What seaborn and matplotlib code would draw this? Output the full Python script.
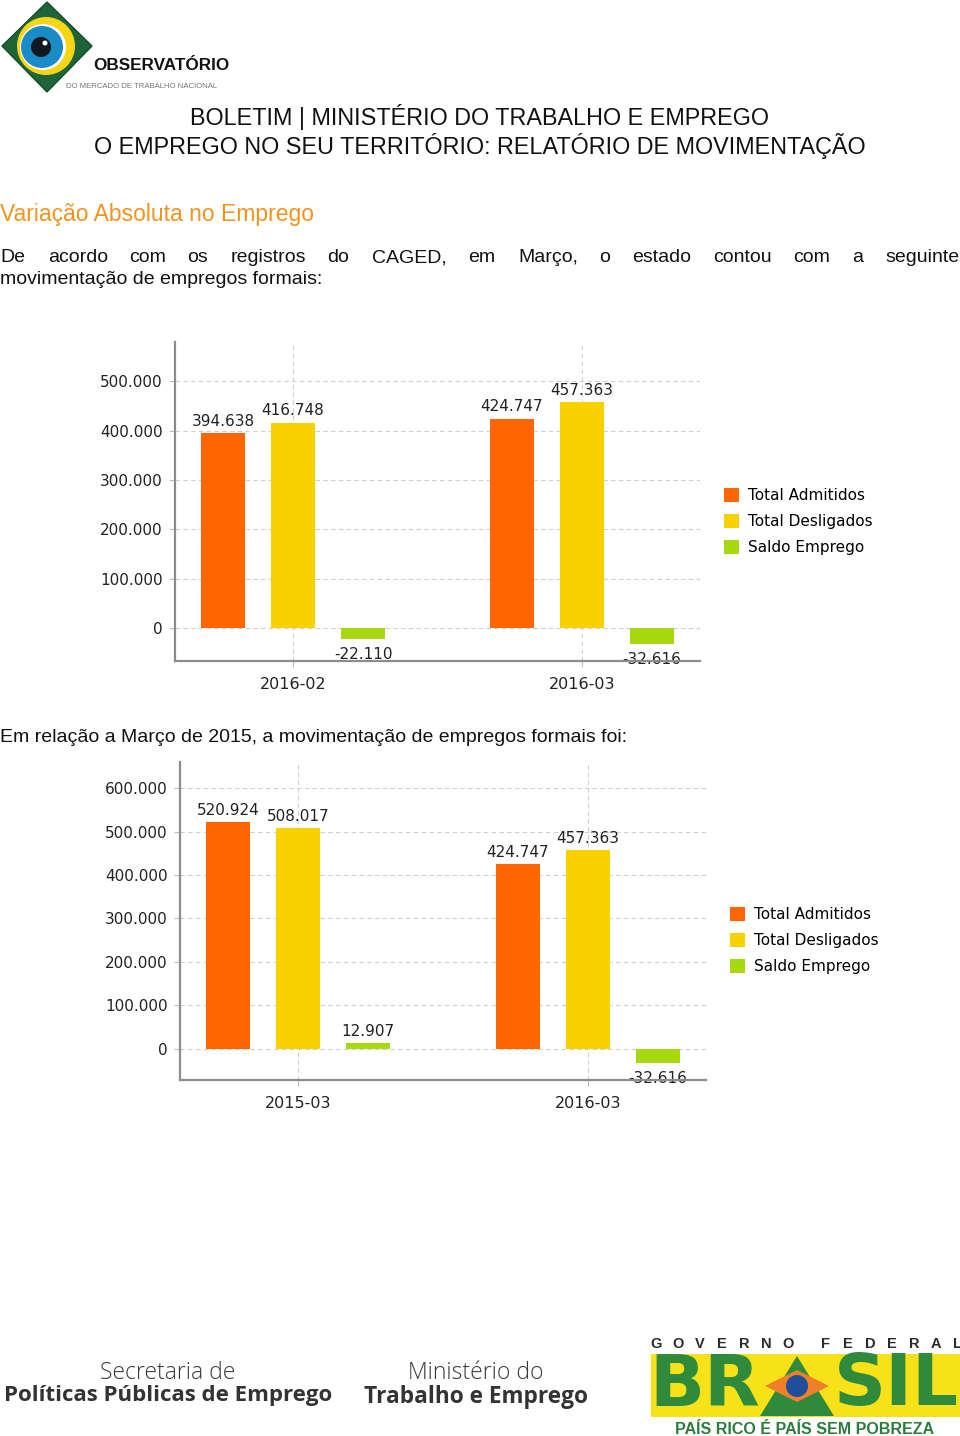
import numpy as np
import pandas as pd
import matplotlib
matplotlib.use("Agg")
import matplotlib.pyplot as plt
import seaborn as sns
from matplotlib.patches import Polygon, Circle, Rectangle

# ---------------- data ----------------
series = ["Total Admitidos", "Total Desligados", "Saldo Emprego"]
colors = ["#ff6600", "#fad100", "#a8d80f"]

periods_1 = ["2016-02", "2016-03"]
admitidos_1 = [394638, 424747]
desligados_1 = [416748, 457363]
saldo_1 = [-22110, -32616]
yticks_1 = [0, 100000, 200000, 300000, 400000, 500000]

periods_2 = ["2015-03", "2016-03"]
admitidos_2 = [520924, 424747]
desligados_2 = [508017, 457363]
saldo_2 = [12907, -32616]
yticks_2 = [0, 100000, 200000, 300000, 400000, 500000, 600000]

body_words = ["De", "acordo", "com", "os", "registros", "do", "CAGED,", "em",
              "Março,", "o", "estado", "contou", "com", "a", "seguinte"]
body_word_x = [0, 48, 129, 187, 231, 327, 372, 468, 518, 599, 632, 713, 793, 852, 885]


def br(v):
    return f"{v:,.0f}".replace(",", ".")


W, H = 960, 1436
fig = plt.figure(figsize=(W / 100, H / 100), dpi=100)
fig.patch.set_facecolor("white")

# background axes in pixel coordinates (y downward)
bg = fig.add_axes([0, 0, 1, 1])
bg.set_xlim(0, W)
bg.set_ylim(H, 0)
bg.axis("off")

SANS = ["Liberation Sans", "DejaVu Sans"]

# ---------------- header logo ----------------
bg.add_patch(Polygon([(47, 2), (92, 46), (47, 92), (2, 46)], closed=True,
                     facecolor="#1f6436", edgecolor="#174d2a", lw=1))
bg.add_patch(Circle((46, 46), 29, facecolor="#f6d516", edgecolor="none"))
bg.add_patch(Circle((43, 47), 23, facecolor="white", edgecolor="none"))
bg.add_patch(Circle((42, 47), 21, facecolor="#1b8bc8", edgecolor="none"))
bg.add_patch(Circle((41, 47), 10, facecolor="#101820", edgecolor="none"))
bg.add_patch(Circle((45, 43), 2.5, facecolor="white", edgecolor="none"))
bg.text(93, 66, "OBSERVATÓRIO", ha="left", va="center", fontsize=12.3,
        fontweight="bold", family=["Liberation Sans"], color="#111")
bg.text(66, 86, "DO MERCADO DE TRABALHO NACIONAL", ha="left", va="center", fontsize=5.6,
        family=["Liberation Sans"], color="#777")

# ---------------- titles ----------------
bg.text(480, 117, "BOLETIM | MINISTÉRIO DO TRABALHO E EMPREGO", ha="center", va="center",
        fontsize=16.8, family=SANS, color="#111")
bg.text(480, 146, "O EMPREGO NO SEU TERRITÓRIO: RELATÓRIO DE MOVIMENTAÇÃO", ha="center",
        va="center", fontsize=16.8, family=SANS, color="#111")
bg.text(0, 215, "Variação Absoluta no Emprego", ha="left", va="center", fontsize=16.5,
        family=SANS, color="#f39320")
for w_, x_ in zip(body_words, body_word_x):
    bg.text(x_, 258, w_, ha="left", va="center", fontsize=14, family=SANS, color="#111")
bg.text(0, 279, "movimentação de empregos formais:", ha="left", va="center", fontsize=14,
        family=SANS, color="#111")
bg.text(0, 738, "Em relação a Março de 2015, a movimentação de empregos formais foi:",
        ha="left", va="center", fontsize=14, family=SANS, color="#111")

# ---------------- footer ----------------
FOOT = ["Open Sans", "DejaVu Sans"]
bg.text(168, 1373, "Secretaria de", ha="center", va="center", fontsize=16.5,
        family=FOOT, fontweight="light", color="#3a3a3a")
bg.text(168, 1396, "Políticas Públicas de Emprego", ha="center", va="center", fontsize=16,
        family=FOOT, fontweight="bold", color="#333333")
bg.text(476, 1373, "Ministério do", ha="center", va="center", fontsize=16.5,
        family=FOOT, fontweight="light", color="#3a3a3a")
bg.text(476, 1397, "Trabalho e Emprego", ha="center", va="center", fontsize=16.3,
        family=FOOT, fontweight="bold", color="#333333")

gov_1 = "GOVERNO"
gov_2 = "FEDERAL"
for i, ch in enumerate(gov_1):
    bg.text(656 + i * 22, 1344, ch, ha="center", va="center", fontsize=10.5,
            fontweight="bold", family=SANS, color="#2b2b2b")
for i, ch in enumerate(gov_2):
    bg.text(826 + i * 22, 1344, ch, ha="center", va="center", fontsize=10.5,
            fontweight="bold", family=SANS, color="#2b2b2b")

bg.add_patch(Rectangle((651, 1354), 309, 63, facecolor="#f7e21a", edgecolor="none"))
bg.text(649, 1386, "BR", ha="left", va="center", fontsize=52, fontweight="bold",
        family=["DejaVu Sans"], color="#2f8a3b")
bg.text(959, 1386, "SIL", ha="right", va="center", fontsize=52, fontweight="bold",
        family=["DejaVu Sans"], color="#2f8a3b")
bg.add_patch(Polygon([(797, 1356), (834, 1416), (760, 1416)], closed=True,
                     facecolor="#2f8a3b", edgecolor="none"))
bg.add_patch(Polygon([(797, 1370), (829, 1386), (797, 1402), (765, 1386)], closed=True,
                     facecolor="#f07f2a", edgecolor="none"))
bg.add_patch(Circle((797, 1386), 11, facecolor="#1f4f9c", edgecolor="none"))

bg.text(805, 1429, "PAÍS RICO É PAÍS SEM POBREZA", ha="center", va="center", fontsize=11.5,
        fontweight="bold", family=SANS, color="#2a7d3a")


# ---------------- charts ----------------
def px_axes(l, t, r, b):
    return fig.add_axes([l / W, 1 - b / H, (r - l) / W, (b - t) / H])


def draw_chart(ax, periods, adm, des, sal, yticks, ylim, legend_xy):
    n = len(periods)
    df = pd.DataFrame({
        "periodo": list(periods) * 3,
        "serie": [series[0]] * n + [series[1]] * n + [series[2]] * n,
        "valor": list(adm) + list(des) + list(sal),
    })
    sns.barplot(data=df, x="periodo", y="valor", hue="serie", hue_order=series,
                order=periods, palette=colors, saturation=1, width=0.727, gap=0.37,
                errorbar=None, ax=ax, zorder=3)
    ax.patch.set_alpha(0)
    ax.set_axisbelow(True)
    for cont in ax.containers:
        vals = list(cont.datavalues)
        labs = ax.bar_label(cont, labels=[br(v) for v in vals], padding=3,
                            fontsize=11, color="#222", family="DejaVu Sans")
        for t, v in zip(labs, vals):
            t.set_clip_on(True)
            t.set_zorder(2)
            if v < 0:
                ox, oy = t.xyann
                t.xyann = (ox, oy - 2.5)
    ax.set_xlim(-0.408, 1.408)
    ax.set_ylim(*ylim)
    ax.set_yticks(yticks)
    ax.set_yticklabels([br(v) for v in yticks], family="DejaVu Sans")
    ax.set_xlabel("")
    ax.set_ylabel("")
    for s in ["top", "right"]:
        ax.spines[s].set_visible(False)
    for s in ["left", "bottom"]:
        ax.spines[s].set_color("#8c8c8c")
        ax.spines[s].set_linewidth(1.6)
        ax.spines[s].set_zorder(5)
    ax.grid(True, axis="both", color="#cfcfcf", linestyle=(0, (4, 3)), linewidth=0.8)
    ax.tick_params(axis="both", length=4, color="#bdbdbd", labelsize=11, labelcolor="#222")
    ax.tick_params(axis="y", pad=5)
    ax.tick_params(axis="x", pad=7.5, labelsize=11.5)
    for lab in ax.get_xticklabels():
        lab.set_family("DejaVu Sans")
    h, l = ax.get_legend_handles_labels()
    if ax.get_legend() is not None:
        ax.get_legend().remove()
    ax.legend(h, l, loc="upper left", bbox_to_anchor=(legend_xy[0] / W, 1 - legend_xy[1] / H),
              bbox_transform=fig.transFigure, frameon=False,
              handlelength=1.0, handleheight=1.0, handletextpad=0.55, labelspacing=0.72,
              borderpad=0, borderaxespad=0, prop={"family": "DejaVu Sans", "size": 11})


ax1 = px_axes(175, 342, 700, 661)
draw_chart(ax1, periods_1, admitidos_1, desligados_1, saldo_1, yticks_1,
           (-66900, 580000), (724, 488))

ax2 = px_axes(180, 762, 706, 1080)
draw_chart(ax2, periods_2, admitidos_2, desligados_2, saldo_2, yticks_2,
           (-71300, 659800), (730, 907))

fig.savefig("out.png", dpi=100, facecolor="white")
